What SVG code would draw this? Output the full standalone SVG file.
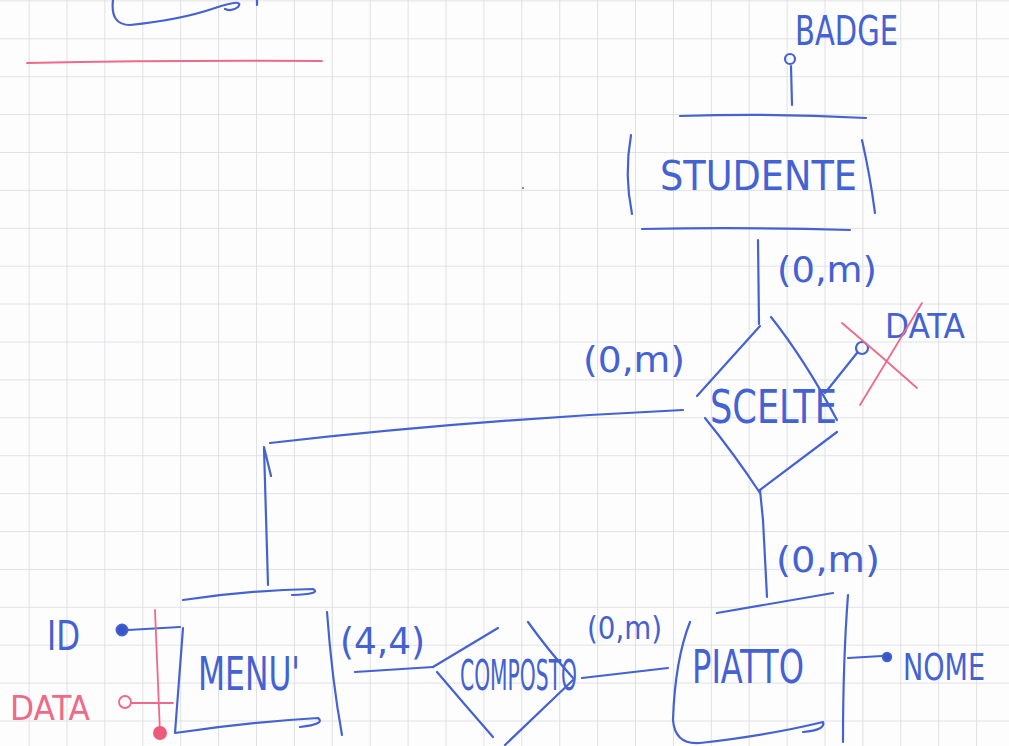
<svg xmlns="http://www.w3.org/2000/svg" width="1009" height="746" viewBox="0 0 1009 746">
  <defs>
    <pattern id="grid" patternUnits="userSpaceOnUse" x="28.6" y="0.4" width="37.9" height="37.9">
      <path d="M0,0 L37.9,0 M0,0 L0,37.9" fill="none" stroke="#d9dade" stroke-width="1.6"/>
    </pattern>
    <style>
      .ink { fill: none; stroke: #4462d2; stroke-width: 2.2; stroke-linecap: round; stroke-linejoin: round; }
      .pink { fill: none; stroke: #ef6a88; stroke-width: 1.8; stroke-linecap: round; }
      .txt { font-family: "Liberation Sans Narrow", "DejaVu Sans Condensed", "Liberation Sans", sans-serif; fill: #4462d2; }
      .ptxt { font-family: "Liberation Sans Narrow", "DejaVu Sans Condensed", "Liberation Sans", sans-serif; fill: #ef6a88; }
    </style>
  </defs>

  <rect x="0" y="0" width="1009" height="746" fill="#fdfdfd"/>
  <rect x="0" y="0" width="1009" height="746" fill="url(#grid)"/>

  <!-- leftover strokes at top-left -->
  <path class="ink" d="M113,0 Q110,25 130,25 Q180,20 215,8 Q245,-2 238,7 Q232,12 225,9"/>
  <path class="ink" d="M257,0 L257,5" stroke-width="1.6"/>
  <path class="pink" d="M27,63 Q170,60 322,61"/>
  <circle cx="523" cy="188" r="1" fill="#4462d2"/>

  <!-- connectors -->
  <g id="connectors">
    <path class="ink" d="M758,240 L759,324"/>
    <path class="ink" d="M683,410 Q470,420 270,443"/>
    <path class="ink" d="M264,448 L268,585 M264,447 L271,476"/>
    <path class="ink" d="M760,490 L763,520 L767,597"/>
    <path class="ink" d="M355,672 L433,667"/>
    <path class="ink" d="M582,678 L668,668"/>
    <text class="txt" x="777" y="282" font-size="36" textLength="100" lengthAdjust="spacingAndGlyphs">(0,m)</text>
    <text class="txt" x="583" y="372" font-size="36" textLength="102" lengthAdjust="spacingAndGlyphs">(0,m)</text>
    <text class="txt" x="776" y="572" font-size="36" textLength="104" lengthAdjust="spacingAndGlyphs">(0,m)</text>
    <text class="txt" x="340" y="654" font-size="38" textLength="85" lengthAdjust="spacingAndGlyphs">(4,4)</text>
    <text class="txt" x="587" y="639" font-size="32" textLength="75" lengthAdjust="spacingAndGlyphs">(0,m)</text>
  </g>

  <!-- STUDENTE entity -->
  <g id="studente">
    <path class="ink" d="M680,116 Q775,113 866,118"/>
    <path class="ink" d="M631,135 Q624,175 632,214"/>
    <path class="ink" d="M862,140 Q870,175 875,213"/>
    <path class="ink" d="M642,229 Q745,227 850,230"/>
    <text class="txt" x="660" y="190" font-size="40" textLength="197" lengthAdjust="spacingAndGlyphs">STUDENTE</text>
  </g>

  <!-- BADGE attribute -->
  <g id="attr-badge">
    <path class="ink" d="M792,105 L791,66"/>
    <circle class="ink" cx="790" cy="59" r="5" stroke-width="3"/>
    <text class="txt" x="795" y="45" font-size="40" textLength="103" lengthAdjust="spacingAndGlyphs">BADGE</text>
  </g>

  <!-- SCELTE relationship -->
  <g id="scelte">
    <path class="ink" d="M760,326 L697,396"/>
    <path class="ink" d="M771,317 Q805,360 837,420"/>
    <path class="ink" d="M705,418 Q735,455 760,493"/>
    <path class="ink" d="M837,432 L760,490"/>
    <text class="txt" x="710" y="423" font-size="46" textLength="127" lengthAdjust="spacingAndGlyphs">SCELTE</text>
  </g>

  <!-- DATA attribute of SCELTE (crossed out) -->
  <g id="attr-data-scelte">
    <path class="ink" d="M825,393 L857,353"/>
    <circle class="ink" cx="862" cy="348" r="6" stroke-width="2"/>
    <text class="txt" x="885" y="338" font-size="34" textLength="80" lengthAdjust="spacingAndGlyphs">DATA</text>
    <path class="pink" d="M922,303 L860,405 M842,323 Q880,355 917,388" stroke-width="1.4"/>
  </g>

  <!-- MENU entity -->
  <g id="menu">
    <path class="ink" d="M183,600 Q250,590 313,589 Q322,594 292,595"/>
    <path class="ink" d="M183,628 L175,733 Q250,722 318,718 Q326,724 300,727"/>
    <path class="ink" d="M327,612 Q332,680 342,735"/>
    <text class="txt" x="198" y="690" font-size="46" textLength="102" lengthAdjust="spacingAndGlyphs">MENU'</text>
  </g>

  <!-- ID attribute -->
  <g id="attr-id">
    <path class="ink" d="M128,630 L180,627"/>
    <circle cx="122" cy="630" r="5.5" fill="#3a56c6" stroke="#4462d2" stroke-width="2"/>
    <text class="txt" x="47" y="650" font-size="40" textLength="33" lengthAdjust="spacingAndGlyphs">ID</text>
  </g>

  <!-- DATA attribute of MENU (pink) -->
  <g id="attr-data-menu">
    <path class="pink" d="M131,703 L173,703"/>
    <circle class="pink" cx="125" cy="702" r="6" stroke-width="2.4"/>
    <path class="pink" d="M155,610 L160,733"/>
    <circle cx="160" cy="733" r="7" fill="#ec5a7c"/>
    <text class="ptxt" x="10" y="720" font-size="34" textLength="80" lengthAdjust="spacingAndGlyphs">DATA</text>
  </g>

  <!-- COMPOSTO relationship -->
  <g id="composto">
    <path class="ink" d="M433,667 L498,628"/>
    <path class="ink" d="M437,672 Q465,705 493,737"/>
    <path class="ink" d="M528,622 Q548,650 573,678"/>
    <path class="ink" d="M573,680 L505,745"/>
    <text class="txt" x="460" y="690" font-size="42" textLength="117" lengthAdjust="spacingAndGlyphs">COMPOSTO</text>
  </g>

  <!-- PIATTO entity -->
  <g id="piatto">
    <path class="ink" d="M717,613 L833,593"/>
    <path class="ink" d="M690,622 Q675,660 673,720 Q675,745 700,743 Q770,735 823,722 Q826,730 803,732"/>
    <path class="ink" d="M848,595 Q843,660 843,742"/>
    <text class="txt" x="692" y="683" font-size="46" textLength="112" lengthAdjust="spacingAndGlyphs">PIATTO</text>
  </g>

  <!-- NOME attribute -->
  <g id="attr-nome">
    <path class="ink" d="M848,658 L882,656"/>
    <circle cx="887" cy="657" r="4.5" fill="#3a56c6" stroke="#4462d2" stroke-width="1.5"/>
    <text class="txt" x="903" y="680" font-size="38" textLength="82" lengthAdjust="spacingAndGlyphs">NOME</text>
  </g>
</svg>
